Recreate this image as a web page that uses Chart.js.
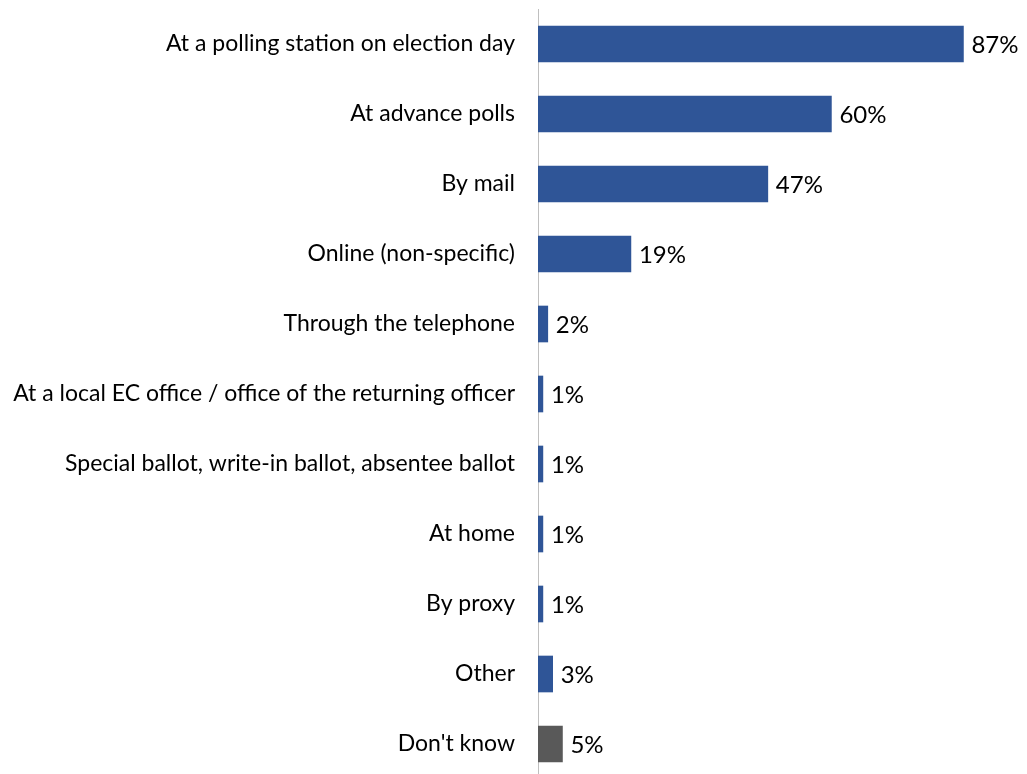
<!DOCTYPE html>
<html>
<head>
<meta charset="utf-8">
<script src="https://cdn.jsdelivr.net/npm/chart.js@4/dist/chart.umd.min.js"></script>
<style>
    html, body { margin: 0; padding: 0; background: #fff; overflow: hidden; }
    #wrap { width: 1027px; height: 790px; }
</style>
</head>
<body>
<div id="wrap"><canvas id="voteChart" width="1027" height="790"></canvas></div>
<script>
const categories = [
    'At a polling station on election day',
    'At advance polls',
    'By mail',
    'Online (non-specific)',
    'Through the telephone',
    'At a local EC office / office of the returning officer',
    'Special ballot, write-in ballot, absentee ballot',
    'At home',
    'By proxy',
    'Other',
    "Don't know"
];
const values = [87, 60, 47, 19, 2, 1, 1, 1, 1, 3, 5];
const barColors = ['#2F5597', '#2F5597', '#2F5597', '#2F5597', '#2F5597', '#2F5597',
    '#2F5597', '#2F5597', '#2F5597', '#2F5597', '#595959'];

const FONT = "Lato, 'Open Sans', sans-serif";

// draws the "87%" style labels just past the end of each bar
const valueLabels = {
    id: 'valueLabels',
    afterDatasetsDraw(chart) {
        const ctx = chart.ctx;
        const meta = chart.getDatasetMeta(0);
        ctx.save();
        ctx.font = '24px ' + FONT;
        ctx.fillStyle = '#000';
        ctx.textBaseline = 'middle';
        ctx.textAlign = 'left';
        meta.data.forEach((bar, i) => {
            ctx.fillText(values[i] + '%', bar.x + 8, bar.y + 1);
        });
        ctx.restore();
    }
};

new Chart(document.getElementById('voteChart').getContext('2d'), {
    type: 'bar',
    data: {
        labels: categories,
        datasets: [{
            data: values,
            backgroundColor: barColors,
            borderWidth: 0,
            barThickness: 36
        }]
    },
    options: {
        indexAxis: 'y',
        responsive: false,
        animation: false,
        layout: { padding: { top: 9, bottom: 11, left: 0, right: 0 } },
        plugins: {
            legend: { display: false },
            tooltip: { enabled: false }
        },
        scales: {
            x: { display: false, min: 0, max: 100 },
            y: {
                grid: { display: false, drawTicks: false },
                border: { display: true, color: '#BFBFBF', width: 1 },
                ticks: {
                    color: '#000',
                    font: { family: FONT, size: 23 },
                    padding: 23
                },
                afterFit(scale) {
                    scale.width = 538;
                    // tick padding should not push the plot area in
                    scale.paddingTop = 0;
                    scale.paddingBottom = 0;
                }
            }
        }
    },
    plugins: [valueLabels]
});
</script>
</body>
</html>
